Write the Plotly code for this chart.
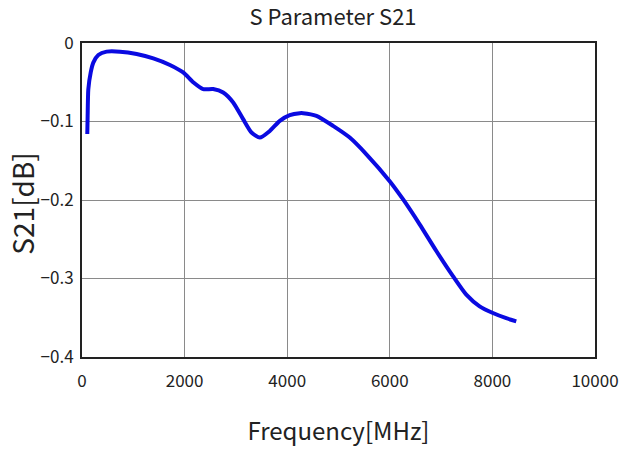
import plotly.graph_objects as go

freq_mhz = [103, 110, 123, 170, 220, 318, 480, 740, 1065, 1390, 1714, 1973, 2168, 2362,
            2557, 2752, 2947, 3141, 3304, 3466, 3661, 3856, 4050, 4245, 4310, 4570, 4894,
            5219, 5544, 5998, 6257, 6582, 6907, 7231, 7491, 7751, 8010, 8270, 8465]
s21_db = [-0.116, -0.093, -0.059, -0.0375, -0.025, -0.0153, -0.011, -0.011, -0.014, -0.0196,
          -0.028, -0.0375, -0.050, -0.0587, -0.0587, -0.063, -0.0757, -0.097, -0.114, -0.1205,
          -0.112, -0.0992, -0.092, -0.0894, -0.0894, -0.0928, -0.1056, -0.1205, -0.1418,
          -0.176, -0.199, -0.231, -0.265, -0.297, -0.3206, -0.3355, -0.344, -0.3506, -0.3546]

x_ticks = [0, 2000, 4000, 6000, 8000, 10000]
y_ticks = [0, -0.1, -0.2, -0.3, -0.4]
y_tick_text = ["0", "\u22120.1", "\u22120.2", "\u22120.3", "\u22120.4"]

FONT = "Noto Sans CJK JP, sans-serif"

fig = go.Figure()
fig.add_trace(go.Scatter(
    x=freq_mhz, y=s21_db, mode="lines",
    line=dict(color="rgb(10,10,225)", width=4, shape="spline", smoothing=0.6),
    showlegend=False,
))

fig.update_layout(
    width=626, height=454,
    margin=dict(l=82, r=31, t=43, b=97),
    paper_bgcolor="white", plot_bgcolor="white",
    font=dict(family=FONT, color="#222"),
    title=dict(text="S Parameter S21", x=0.532, xanchor="center", y=0.9626, yanchor="middle",
               pad=dict(t=0, b=0),
               font=dict(size=22, family=FONT, color="#222")),
    annotations=[dict(
        text="S21[dB]", textangle=-90, xref="paper", yref="paper",
        x=-0.116, y=0.49, xanchor="center", yanchor="middle", showarrow=False,
        font=dict(size=28, family=FONT, color="#222"),
    )],
)
fig.update_xaxes(
    range=[0, 10000], tickvals=x_ticks, ticktext=[str(v) for v in x_ticks],
    showgrid=True, gridcolor="#8a8a8a", gridwidth=1,
    showline=True, linecolor="#222", linewidth=2, mirror=True,
    ticks="", ticklabelstandoff=8, tickfont=dict(size=17, family=FONT),
    zeroline=False, automargin=False,
    title=dict(text="Frequency[MHz]", font=dict(size=24, family=FONT), standoff=32),
)
fig.update_yaxes(
    range=[-0.4, 0], tickvals=y_ticks, ticktext=y_tick_text,
    showgrid=True, gridcolor="#8a8a8a", gridwidth=1,
    showline=True, linecolor="#222", linewidth=2, mirror=True,
    ticks="", ticklabelstandoff=3, tickfont=dict(size=17, family=FONT),
    zeroline=False, automargin=False,
)

# remove the browser's default 8px page margin so the figure sits at the window's corner
fig.write_html("out.html", config={"displayModeBar": False},
               post_script="document.body.style.margin='0';")
